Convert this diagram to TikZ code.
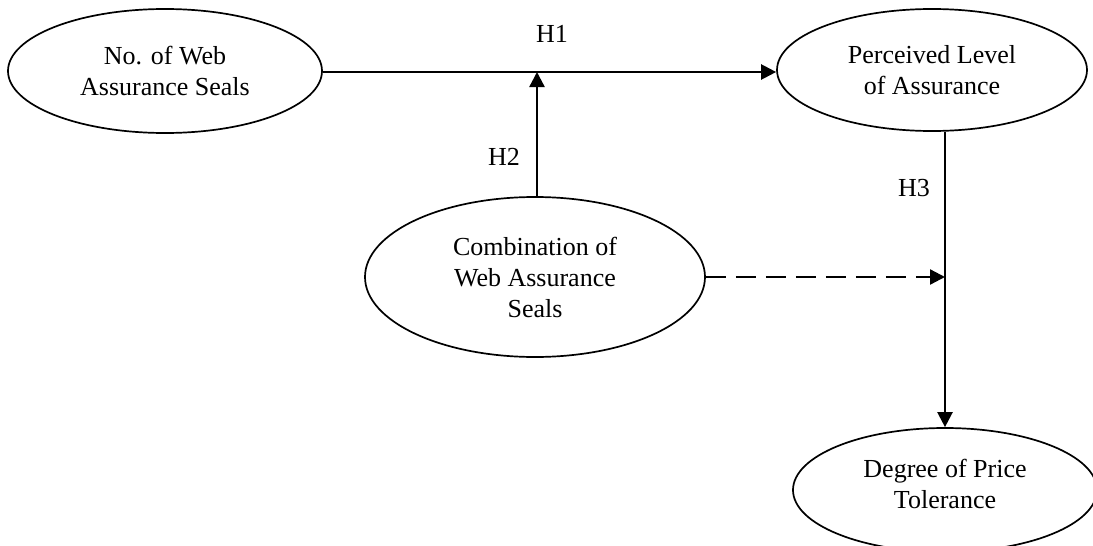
\documentclass[tikz,border=0pt]{standalone}
\usepackage{fontspec}
\setmainfont{Liberation Serif}
\usetikzlibrary{shapes.geometric,arrows.meta}
\begin{document}
\begin{tikzpicture}[x=1pt,y=-1pt,
  every node/.style={font=\fontsize{26}{31}\selectfont},
  construct/.style={draw, ellipse, line width=1.7pt, inner sep=0pt, align=center},
  hlabel/.style={inner sep=0pt},
  link/.style={line width=2.3pt, -{Triangle[length=15pt,width=15pt]}},
  dlink/.style={link, dash pattern=on 20pt off 10pt}]
\useasboundingbox (0,0) rectangle (1093,546);
\clip (0,0) rectangle (1093,546);
\node[construct, minimum width=314pt, minimum height=124pt] (nws) at (165,71) {No. of Web\\Assurance Seals};
\node[construct, minimum width=310pt, minimum height=122pt] (pla) at (932,70) {Perceived Level\\of Assurance};
\node[construct, minimum width=340pt, minimum height=160pt] (cws) at (535,277) {Combination of\\Web Assurance\\Seals};
\node[construct, minimum width=304pt, minimum height=124pt, text depth=12pt] (dpt) at (945,490) {Degree of Price\\Tolerance};
\coordinate (j1) at (537,72);
\coordinate (j2) at (945,277);
\node[hlabel] (h1) at (552,34) {H1};
\node[hlabel] (h2) at (504,157) {H2};
\node[hlabel] (h3) at (914,188) {H3};
\draw[link] (nws.east |- j1) -- (pla.west |- j1);
\draw[link] (cws.north -| j1) -- (j1);
\draw[link] (pla.south -| dpt.north) -- (dpt.north);
\draw[dlink] (cws.east) -- (cws.east -| j2);
\end{tikzpicture}
\end{document}
